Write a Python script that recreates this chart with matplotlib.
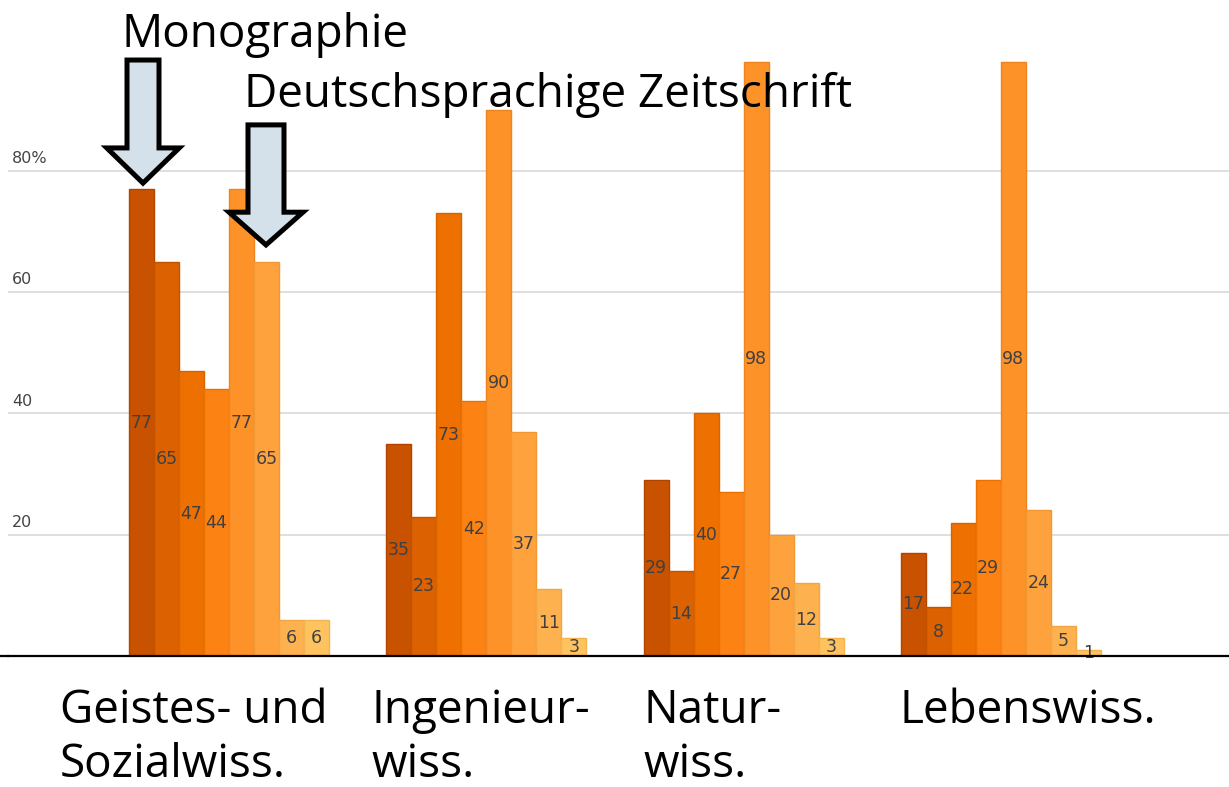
import matplotlib
matplotlib.use("Agg")
import matplotlib.pyplot as plt
import numpy as np
from matplotlib.patches import Polygon

W, H = 1229, 787

categories = ["Geistes- und\nSozialwiss.", "Ingenieur-\nwiss.", "Natur-\nwiss.", "Lebenswiss."]
values = [
    [77, 65, 47, 44, 77, 65, 6, 6],
    [35, 23, 73, 42, 90, 37, 11, 3],
    [29, 14, 40, 27, 98, 20, 12, 3],
    [17, 8, 22, 29, 98, 24, 5, 1],
]
yticks = [20, 40, 60, 80]
ytick_labels = ["20", "40", "60", "80%"]

bar_colors = ["#c85200", "#dc6100", "#ed7000", "#fc8214", "#fd9228", "#fea23e", "#fdb24f", "#fec25e"]
edge_colors = ["#b04400", "#c45300", "#d86400", "#e87200", "#ec8420", "#f09834", "#f0a642", "#f0b450"]

GROUP_STEP = 10.29
BAR_W = 1.0
BIG = 33

fig = plt.figure(figsize=(W / 100, H / 100), dpi=100)
ax = fig.add_axes([8 / W, (H - 656) / H, (W - 8) / W, 656 / H])
ax.set_xlim(-4.84, 44.0)
ax.set_ylim(0, 108.2)
ax.axis("off")

# grid lines and tick labels
for t, lab in zip(yticks, ytick_labels):
    ax.axhline(t, color="#d9d9d9", lw=1.2, zorder=0)
    ax.text(-4.68, t + 1.3, lab, fontsize=11.5, color="#444444", ha="left", va="baseline",
            family="DejaVu Sans")

for g, vals in enumerate(values):
    x = g * GROUP_STEP + np.arange(len(vals)) * BAR_W
    ax.bar(x, vals, width=BAR_W, align="edge", color=bar_colors, edgecolor=edge_colors,
           linewidth=1.0, zorder=2)
    for xi, v in zip(x, vals):
        ax.text(xi + BAR_W / 2, v / 2, str(v), ha="center", va="center", fontsize=12.5,
                color="#404040", zorder=3)

ax.axhline(0, color="black", lw=1.6, zorder=4, clip_on=False)
ax.plot([-5.2, -4.84], [0, 0], color="black", lw=1.6, clip_on=False, zorder=4)

# category labels below the baseline
label_x = [-2.76, 9.68, 20.56, 30.84]
for lx, cat in zip(label_x, categories):
    ax.text(lx, -5.3, cat, ha="left", va="top", fontsize=BIG, family="Open Sans",
            linespacing=1.22, color="black", clip_on=False)


def block_arrow(tip_x, tip_y, top_y, shaft_w, head_w, head_len):
    base = tip_y + head_len
    pts = [
        (tip_x - shaft_w / 2, top_y),
        (tip_x + shaft_w / 2, top_y),
        (tip_x + shaft_w / 2, base),
        (tip_x + head_w / 2, base),
        (tip_x, tip_y),
        (tip_x - head_w / 2, base),
        (tip_x - shaft_w / 2, base),
    ]
    return Polygon(pts, closed=True, facecolor="#d4e1eb", edgecolor="black", lw=3.6,
                   joinstyle="miter", zorder=6, clip_on=False)


ax.add_patch(block_arrow(0.56, 78.0, 98.3, 1.28, 2.9, 5.8))
ax.add_patch(block_arrow(5.48, 67.8, 87.6, 1.44, 2.96, 5.4))

ax.text(-0.3, 100.4, "Monographie", ha="left", va="baseline", fontsize=BIG, family="Open Sans",
        color="black", clip_on=False)
ax.text(4.58, 90.5, "Deutschsprachige Zeitschrift", ha="left", va="baseline", fontsize=BIG,
        family="Open Sans", color="black", clip_on=False)

fig.savefig("out.png", dpi=100)
